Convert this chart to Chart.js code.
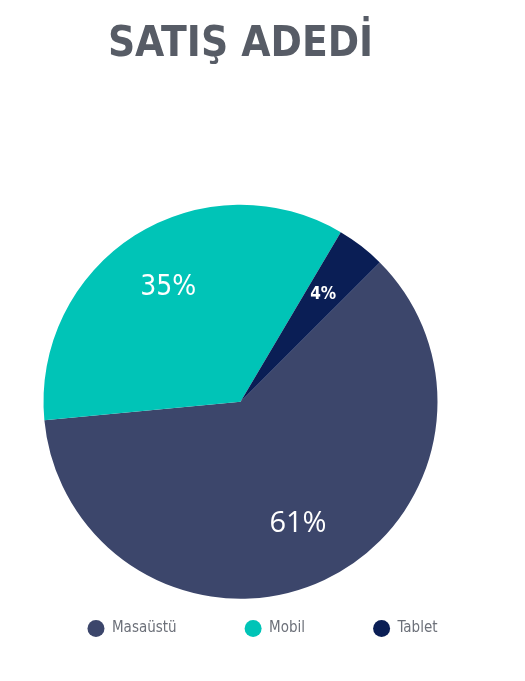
<!DOCTYPE html>
<html>
<head>
<meta charset="utf-8">
<script src="https://cdn.jsdelivr.net/npm/chart.js@4"></script>
<style>
  body { margin: 0; background: #fff; }
</style>
</head>
<body>
<canvas id="myChart" width="525" height="681"></canvas>
<script>
const titleText = 'SATIŞ ADEDİ';
const categories = ['Masaüstü', 'Mobil', 'Tablet'];
const shares = [61, 35, 4];
const sliceColors = ['#3c466b', '#00c4b7', '#0a1e55'];

const condensed = "'DejaVu Sans Condensed', 'DejaVu Sans', sans-serif";

// white percentage text inside each slice
const labelFonts = [
    {family: "'Open Sans', sans-serif", size: 29, weight: 'normal'},
    {family: condensed, size: 28, weight: 'normal'},
    {family: condensed, size: 17, weight: 'bold'}
];

const sliceLabels = {
    id: 'sliceLabels',
    afterDatasetsDraw(chart) {
        const ctx = chart.ctx;
        const meta = chart.getDatasetMeta(0);
        const total = shares.reduce((a, b) => a + b, 0);
        ctx.save();
        ctx.fillStyle = '#ffffff';
        ctx.textAlign = 'center';
        ctx.textBaseline = 'middle';
        meta.data.forEach((arc, i) => {
            const p = arc.getProps(['x', 'y', 'startAngle', 'endAngle', 'outerRadius'], true);
            const mid = (p.startAngle + p.endAngle) / 2;
            const r = p.outerRadius * 0.685;
            const f = labelFonts[i];
            ctx.font = f.weight + ' ' + f.size + 'px ' + f.family;
            ctx.fillText(Math.round(shares[i] / total * 100) + '%', p.x + Math.cos(mid) * r, p.y + Math.sin(mid) * r);
        });
        ctx.restore();
    }
};

const ctx = document.getElementById('myChart').getContext('2d');
const salesChart = new Chart(ctx, {
    type: 'pie',
    data: {
        labels: categories,
        datasets: [{
            data: shares,
            backgroundColor: sliceColors,
            borderWidth: 0,
            radius: 197,
            clip: false
        }]
    },
    options: {
        responsive: false,
        animation: false,
        events: [],
        rotation: 45,
        layout: {
            padding: {top: 0, right: 0, bottom: 35, left: 0}
        },
        scales: {
            // empty box on the right, only to push the pie and title left of the legend centre
            spacer: {
                type: 'linear',
                position: 'right',
                display: true,
                ticks: {display: false},
                grid: {display: false},
                border: {display: false},
                afterFit: (axis) => { axis.width = 44; }
            }
        },
        plugins: {
            title: {
                display: true,
                fullSize: false,
                text: titleText,
                color: '#575c66',
                font: {family: condensed, size: 42, weight: 'bold'},
                padding: {top: 20, bottom: 180}
            },
            legend: {
                position: 'bottom',
                align: 'center',
                labels: {
                    usePointStyle: true,
                    pointStyle: 'circle',
                    pointStyleWidth: 17,
                    boxHeight: 12,
                    padding: 68,
                    color: '#6c7079',
                    font: {family: condensed, size: 15}
                }
            },
            tooltip: {enabled: false}
        }
    },
    plugins: [sliceLabels]
});
</script>
</body>
</html>
